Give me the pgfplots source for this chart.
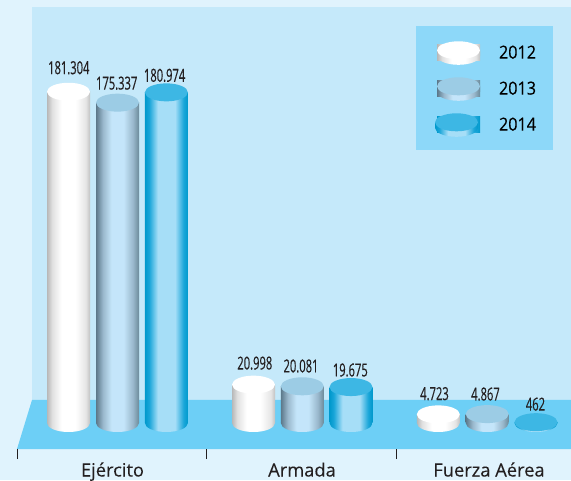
\documentclass[border=0pt]{standalone}
\usepackage{fontspec}
\setmainfont[FakeBold=0.1]{Open Sans}
\newfontfamily\axisfont[FakeBold=0.15]{Open Sans}
\newfontfamily\condfont[FakeStretch=0.62,FakeBold=0.35]{Open Sans}
\newfontfamily\legfont[FakeStretch=0.9,FakeBold=0.3]{Open Sans}
\usepackage{pgfplots}
\usepackage{pgfplotstable}
\pgfplotsset{compat=1.18}
\definecolor{pagebg}{HTML}{E0F3FD}
\definecolor{wallbg}{HTML}{C5E9FA}
\definecolor{floorbg}{HTML}{6DCFF6}
\definecolor{legbg}{HTML}{8DD8F9}
\definecolor{capA}{HTML}{FFFFFF}
\definecolor{capB}{HTML}{9CCCE5}
\definecolor{capC}{HTML}{3DB7E4}
\definecolor{inkc}{HTML}{231F20}
\pgfdeclarehorizontalshading{cylA}{100bp}{color(0bp)=(black!28);color(25bp)=(black!28);color(31bp)=(black!12);color(42bp)=(white);color(58bp)=(white);color(70bp)=(black!10);color(75bp)=(black!24);color(100bp)=(black!24)}
\pgfdeclarehorizontalshading{cylB}{100bp}{rgb(0bp)=(.36,.47,.54);rgb(25bp)=(.36,.47,.54);rgb(33bp)=(.60,.72,.80);rgb(43bp)=(.77,.90,.98);rgb(57bp)=(.77,.90,.98);rgb(68bp)=(.60,.72,.80);rgb(75bp)=(.42,.54,.60);rgb(100bp)=(.42,.54,.60)}
\pgfdeclarehorizontalshading{cylC}{100bp}{rgb(0bp)=(0,.60,.80);rgb(25bp)=(0,.60,.80);rgb(30bp)=(.10,.65,.85);rgb(40bp)=(.65,.87,.97);rgb(60bp)=(.65,.87,.97);rgb(70bp)=(.10,.65,.85);rgb(75bp)=(0,.60,.80);rgb(100bp)=(0,.60,.80)}
\pgfdeclareplotmark{topcap}{\pgfpathellipse{\pgfpointorigin}{\pgfqpoint{21.5pt}{0pt}}{\pgfqpoint{0pt}{9pt}}\pgfusepathqfill}
\newcommand\botpath{\pgfpathmoveto{\pgfqpoint{-21.5pt}{0pt}}\pgfpatharc{180}{360}{21.5pt and 9pt}\pgfpathclose}
\pgfdeclareplotmark{botA}{\botpath\pgfshadepath{cylA}{0}\pgfusepath{discard}}
\pgfdeclareplotmark{botB}{\botpath\pgfshadepath{cylB}{0}\pgfusepath{discard}}
\pgfdeclareplotmark{botC}{\botpath\pgfshadepath{cylC}{0}\pgfusepath{discard}}
\newcommand\discimg[3]{%
  \useasboundingbox (0pt,-8pt) rectangle (43pt,8pt);
  \shade[shading=#1] (#3,2.5pt) -- ++(43pt,0pt) -- ++(0pt,-5.5pt) arc[start angle=360,end angle=180,x radius=21.5pt,y radius=9pt] -- cycle;
  \path[shade=false,fill=#2,draw=none] ([shift={(21.5pt,2.5pt)}]#3,0pt) ellipse[x radius=21.5pt,y radius=9pt];}
\pgfplotstableread{
x y label dx dy
68.5 181304 181.304 0.3 24
253.5 20998 20.998 1.3 21.5
438.3 4723 4.723 -3.8 20.7
}\serA
\pgfplotstableread{
x y label dx dy
117.5 175337 175.337 -0.8 19.5
302.3 20081 20.081 -1.3 20.3
487.2 4867 4.867 -1.7 20
}\serB
\pgfplotstableread{
x y label dx dy
166.4 180974 180.974 -1.8 17
351 19675 19.675 -0.7 17
536 462 462 -0.5 18
}\serC
% one bar of a series: table, first row, row after it, shading, extra options
\newcommand\cyl[5]{%
  \addplot[ybar, bar shift=0pt, bar width=43pt, draw=none, shade, shading=#4,
    point meta=explicit symbolic,
    skip coords between index={0}{#2}, skip coords between index={#3}{3}, #5]
    table[x=x,y=y,meta=label] {#1};}
\begin{document}
\begin{tikzpicture}[x=1pt,y=1pt]
\useasboundingbox (0,0) rectangle (571,480);
\fill[pagebg] (0,0) rectangle (571,480);
\fill[wallbg] (32,80) rectangle (571,473);
\fill[floorbg] (17,31) -- (32,80) -- (571,80) -- (571,31) -- cycle;
\fill[legbg] (416,330) rectangle (553,454);
\begin{axis}[
  at={(0pt,31pt)}, anchor=south west,
  scale only axis, width=571pt, height=449pt,
  xmin=0, xmax=571, ymin=-14231, ymax=231527,
  axis line style={draw=none},
  clip=false,
  ytick=\empty,
  xtick={17,206.5,396},
  xticklabels={,,},
  tick pos=bottom, tick align=outside,
  major tick length=10pt,
  tick style={color=inkc,line width=0.8pt},
  extra x ticks={112.5,302,489},
  extra x tick labels={Ejército,Armada,Fuerza Aérea},
  extra x tick style={major tick length=0pt, tick style={draw=none}},
  xticklabel style={font=\axisfont\fontsize{18.3}{20}\selectfont, text=inkc, inner sep=0pt, anchor=base, yshift=-27.5pt},
  legend style={at={(axis cs:437,207000)}, anchor=north west, draw=none, fill=none,
    inner sep=0pt, outer sep=0pt, row sep=20pt, column sep=0pt,
    font=\legfont\fontsize{18}{19}\selectfont, text=black,
    nodes={inner sep=0pt, outer sep=0pt}},
  legend cell align=left,
  visualization depends on={\thisrow{dx} \as \dx},
  visualization depends on={\thisrow{dy} \as \dy},
  nodes near coords,
  nodes near coords style={font=\condfont\fontsize{18}{19}\selectfont, text=inkc, anchor=center, inner sep=0pt, xshift=\dx pt, yshift=\dy pt},
]
% series 2012
\addplot[forget plot, only marks, mark=botA, nodes near coords=] table[x=x,y expr=0] {\serA};
\cyl{\serA}{0}{1}{cylA}{legend image code/.code={\discimg{cylA}{capA}{0pt}}}
\addlegendentry{\hspace{19pt}2012}
\cyl{\serA}{1}{2}{cylA}{forget plot}
\cyl{\serA}{2}{3}{cylA}{forget plot}
\addplot[forget plot, only marks, mark=topcap, mark options={fill=capA,draw=none}, nodes near coords=] table[x=x,y=y] {\serA};
% series 2013
\addplot[forget plot, only marks, mark=botB, nodes near coords=] table[x=x,y expr=0] {\serB};
\cyl{\serB}{0}{1}{cylB}{legend image code/.code={\discimg{cylB}{capB}{0pt}}}
\addlegendentry{\hspace{19pt}2013}
\cyl{\serB}{1}{2}{cylB}{forget plot}
\cyl{\serB}{2}{3}{cylB}{forget plot}
\addplot[forget plot, only marks, mark=topcap, mark options={fill=capB,draw=none}, nodes near coords=] table[x=x,y=y] {\serB};
% series 2014
\addplot[forget plot, only marks, mark=botC, nodes near coords=] table[x=x,y expr=0] {\serC};
\cyl{\serC}{0}{1}{cylC}{legend image code/.code={\discimg{cylC}{capC}{-2pt}}}
\addlegendentry{\hspace{19pt}2014}
\cyl{\serC}{1}{2}{cylC}{forget plot}
\cyl{\serC}{2}{3}{cylC}{forget plot}
\addplot[forget plot, only marks, mark=topcap, mark options={fill=capC,draw=none}, nodes near coords=] table[x=x,y=y] {\serC};
\end{axis}
\end{tikzpicture}
\end{document}
